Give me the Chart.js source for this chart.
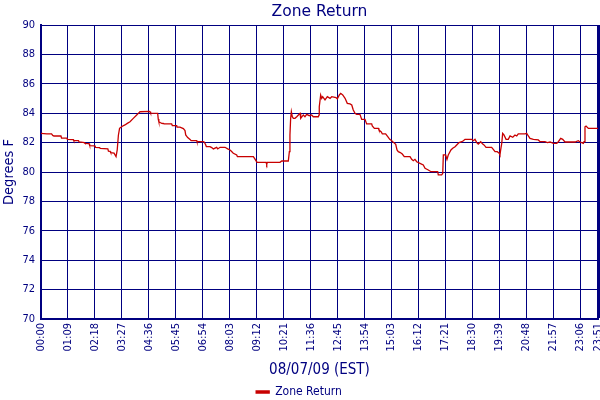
<!DOCTYPE html>
<html>
<head>
<meta charset="utf-8">
<script src="https://cdn.jsdelivr.net/npm/chart.js@4/dist/chart.umd.min.js"></script>
<style>
  html,body{margin:0;padding:0;background:#fff}
  #wrap{width:600px;height:400px}
</style>
</head>
<body>
<div id="wrap"><canvas id="grafico"></canvas></div>
<script>
// tick labels along the time axis (one every 23 samples, 3 min each)
const tickLabels=['00:00','01:09','02:18','03:27','04:36','05:45','06:54','08:03','09:12','10:21',
  '11:36','12:45','13:54','15:03','16:12','17:21','18:30','19:39','20:48','21:57','23:06','23:51'];
const tickPos=[0,23,46,69,92,115,138,161,184,207,230,253,276,299,322,345,368,391,414,437,460,475];

// sample index of each vertex
const sampleX=[
  0,5,9,10,11,17,17.5,22,22.5,27.6,28,32,32.5,37,37.5,41,41.5,46,46.5,50,50.5,57,57.5,59,59.5,62.3,64,65,66,67,69,71.6,73.6,75.9,78.7,81.6,83,84.4,92.4,
  93,93.5,99.5,100,100.5,102,103,104.3,105,111.4,112,115.7,116,118.5,121.4,122.8,123.4,125.1,127.1,128,132.8,133,138.4,139.3,140.5,141,144.1,145.6,147,149.8,150.7,152.7,156.9,159.2,161.2,162.6,164,166.9,167.5,179.7,
  181.1,182.5,183.9,184.5,191.9,192.5,193,203.8,205.3,210.9,211.8,212.3,212.9,213.5,214.3,215.2,216.6,218.1,219.5,220.9,221.5,223.7,225.1,226.6,228.8,230.8,232.2,236.5,237.1,237.3,238.5,239.4,240.2,242.2,244.2,246.5,247.9,251.6,252.7,254.4,255.6,257.3,259.3,261.2,263.5,265,266.3,267.8,269.2,272,
  273.5,276.3,277.7,282,282.5,284.3,287.7,288.2,290,291.1,293.9,295.7,297.4,299.1,300.8,302.5,303.6,304.7,306.4,308.1,309.8,314.7,316.1,317.5,318.9,320.4,323.2,326,327.5,330.3,332.6,338.3,338.8,341.7,342.6,343.1,345.1,346.2,347.3,349.6,351.1,353.1,354.5,356.5,358.8,
  360.2,361.6,367.3,368.7,370.1,371.6,372.9,375,376.7,377.8,379.5,384.3,385.7,387.2,389.1,390.8,391.4,392,392.9,393.7,394.8,396.6,398.5,400,402.3,404.2,405.7,407,412.8,414.2,415.6,417,419.9,424.1,425.6,429.8,431.8,434.1,436.9,439.8,441.2,443.2,444.9,446.9,455.4,458.2,459.7,461.1,462.5,463.1,463.9,464.8,466.8,475
];
// Zone Return temperature, deg F
const zoneReturn=[
  82.63,82.6,82.59,82.49,82.45,82.45,82.31,82.31,82.22,82.2,82.13,82.13,82.04,82.0,81.95,81.93,81.8,81.78,81.68,81.66,81.6,81.58,81.42,81.4,81.31,81.28,81.04,81.5,82.5,82.97,83.1,83.2,83.31,83.42,83.65,83.88,83.99,84.1,84.12,
  84.1,84.0,83.99,83.6,83.42,83.35,83.31,83.3,83.27,83.27,83.16,83.16,83.05,83.05,82.95,82.82,82.52,82.34,82.22,82.13,82.13,82.07,82.07,82.02,81.84,81.73,81.73,81.66,81.57,81.68,81.57,81.68,81.68,81.57,81.5,81.39,81.27,81.16,81.04,81.04,
  81.04,80.88,80.7,80.66,80.66,80.52,80.66,80.66,80.75,80.75,81.38,82.52,83.65,84.1,83.76,83.65,83.65,83.76,83.88,83.99,83.65,83.88,83.76,83.92,83.83,83.88,83.76,83.76,83.88,84.44,85.24,85.01,85.12,84.9,85.12,85.01,85.12,85.06,84.97,85.24,85.35,85.24,85.01,84.67,84.63,84.56,84.22,83.99,83.92,83.92,
  83.58,83.58,83.27,83.27,83.13,82.97,82.97,82.86,82.74,82.59,82.59,82.4,82.22,82.13,82.0,81.88,81.5,81.38,81.32,81.22,81.04,81.04,80.86,80.77,80.86,80.7,80.59,80.48,80.25,80.14,80.02,80.02,79.8,79.8,79.91,81.16,81.16,80.86,81.16,81.5,81.61,81.72,81.84,82.0,82.06,
  82.13,82.22,82.22,82.13,82.22,82.0,81.9,82.06,81.9,81.84,81.68,81.68,81.54,81.38,81.38,81.27,81.16,81.5,81.95,82.63,82.52,82.22,82.22,82.45,82.36,82.52,82.45,82.59,82.59,82.63,82.45,82.29,82.22,82.18,82.06,82.06,82.0,82.04,81.95,81.95,82.06,82.29,82.22,82.04,82.04,82.13,82.04,82.0,81.95,82.06,83.08,83.13,82.97,82.97
];

const navy='#000080';
const rosso='#c80000';
const padBottom=-8;
Chart.defaults.font.family="'DejaVu Sans Condensed','DejaVu Sans',sans-serif";
Chart.defaults.color=navy;

const punti=sampleX.map((x,i)=>({x:x,y:zoneReturn[i]}));

const ctx=document.getElementById('grafico').getContext('2d');
new Chart(ctx,{
  type:'line',
  data:{
    datasets:[{
      label:'Zone Return',
      data:punti,
      borderColor:rosso,
      backgroundColor:rosso,
      borderWidth:1.3,
      pointRadius:0,
      tension:0,
      fill:false
    }]
  },
  options:{
    responsive:true,
    maintainAspectRatio:false,
    animation:false,
    layout:{padding:{left:0,right:2,top:0,bottom:padBottom}},
    plugins:{
      title:{
        display:true,
        text:'Zone Return',
        color:navy,
        fullSize:false,
        font:{family:"'DejaVu Sans',sans-serif",size:15.5,weight:'normal'},
        padding:{top:3,bottom:3.4}
      },
      legend:{
        position:'bottom',
        labels:{color:navy,boxWidth:13,boxHeight:2,font:{size:12},padding:1}
      },
      tooltip:{enabled:false}
    },
    scales:{
      x:{
        type:'linear',
        min:0,max:475,
        afterBuildTicks:s=>{ s.ticks=tickPos.map(v=>({value:v})) },
        afterFit:s=>{
          s.height=(400-padBottom)-s.chart.legend.height-319;
          s.paddingLeft=0; s.paddingRight=0;
        },
        ticks:{
          autoSkip:false,minRotation:90,maxRotation:90,padding:4,
          font:{size:11},color:navy,
          callback:(v,i)=>tickLabels[i]
        },
        grid:{color:navy,drawTicks:false,lineWidth:c=>(c.tick&&c.tick.value===475)?3:1},
        border:{color:navy,width:2},
        title:{display:true,text:'08/07/09 (EST)',color:navy,font:{size:15,lineHeight:1},padding:{top:0,bottom:7}}
      },
      y:{
        min:70,max:90,
        afterFit:s=>{ s.width=41; s.paddingTop=0; s.paddingBottom=0 },
        ticks:{stepSize:2,padding:6,font:{size:11},color:navy},
        grid:{color:navy,drawTicks:false,lineWidth:1},
        border:{color:navy,width:2},
        title:{display:true,text:'Degrees F',color:navy,font:{size:14.5},padding:{top:1,bottom:0}}
      }
    }
  }
});
</script>
</body>
</html>
